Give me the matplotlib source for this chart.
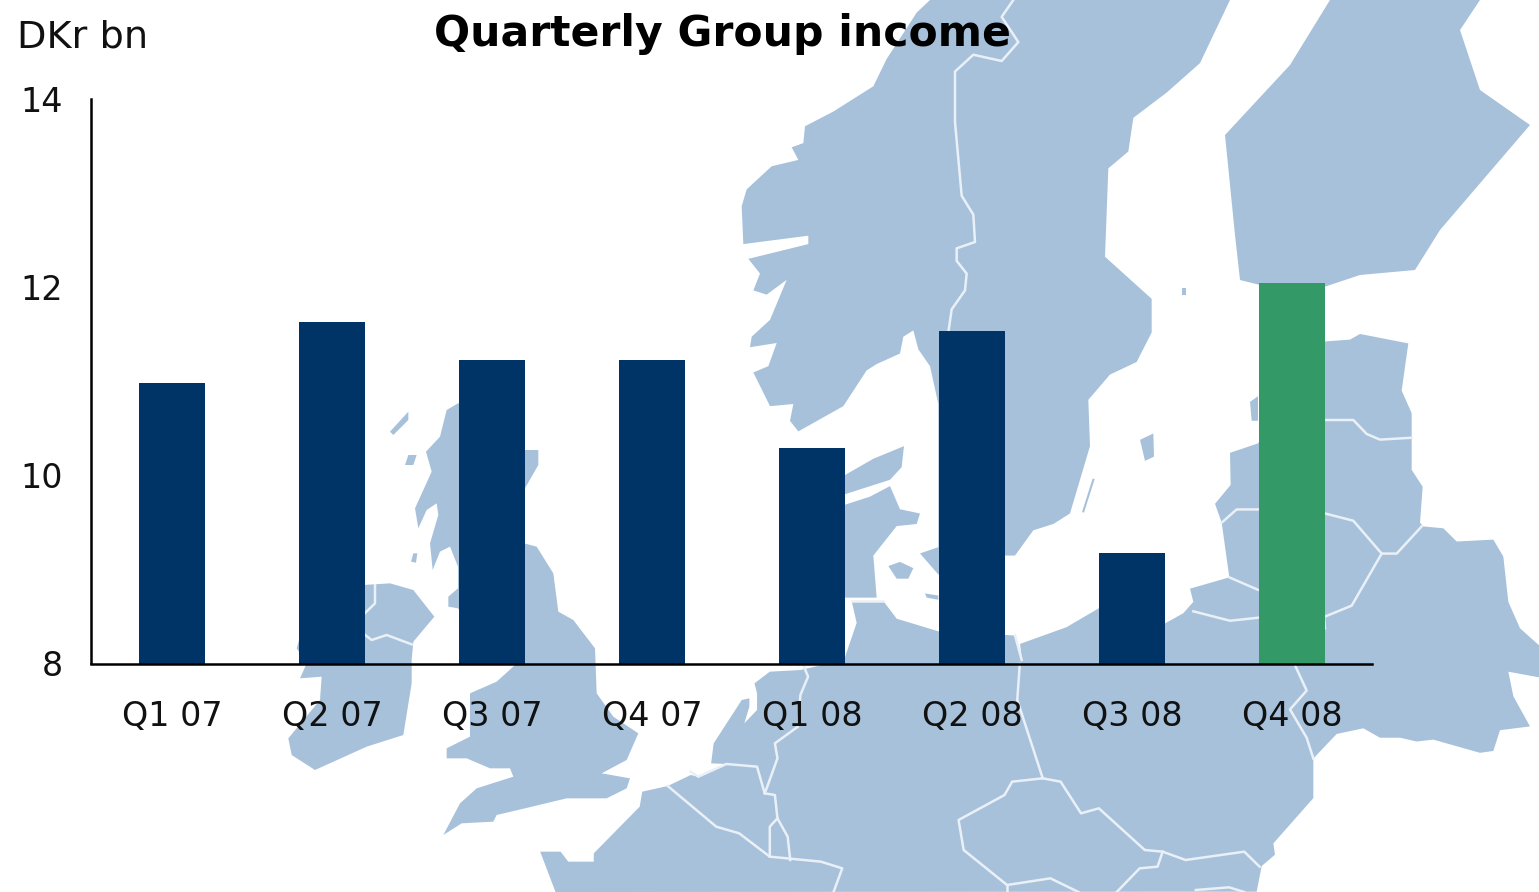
import matplotlib
matplotlib.use("Agg")
import matplotlib.pyplot as plt
from matplotlib.patches import Polygon

quarters = ["Q1 07", "Q2 07", "Q3 07", "Q4 07", "Q1 08", "Q2 08", "Q3 08", "Q4 08"]
income = [10.98, 11.63, 11.23, 11.23, 10.29, 11.53, 9.17, 12.04]
y_ticks = [8, 10, 12, 14]

W, H = 1539, 892
BLUE = "#003366"
GREEN = "#339966"
LAND = "#A7C1DB"
FONT = ["DejaVu Sans"]


def conv(x0, y0, sx, sy):
    return lambda pts: [(x0 + x / sx, y0 + y / sy) for x, y in pts]


z1 = conv(280, 400, 3, 3)
z2 = conv(700, 0, 3, 2.376)
z3 = conv(1150, 300, 3, 2.65)
z4 = conv(530, 660, 1.96, 3)

fig = plt.figure(figsize=(W / 100, H / 100), dpi=100, facecolor="white")

# decorative background map, in pixel space
bg = fig.add_axes([0, 0, 1, 1], zorder=0)
bg.set_xlim(0, W)
bg.set_ylim(H, 0)
bg.axis("off")

scandinavia = z2([(690,0),(650,30),(560,140),(520,205),(400,265),(315,300),(310,340),(275,350),(295,380),(215,395),
                  (140,450),(125,490),(130,580),(325,560),(325,580),(145,615),(180,650),(160,690),(200,700),(260,665),
                  (210,760),(155,800),(150,825),(230,815),(205,870),(160,885),(210,965),(280,960),(270,1000),(295,1025),
                  (430,965),(500,880),(530,865),(600,840),(610,800),(640,785),(655,830),(690,870),(715,960),(715,1300),
                  (660,1315),(715,1365),(915,1320),(945,1320),(1000,1260),(1060,1245),(1110,1220),(1170,1060),(1165,950),
                  (1230,890),(1310,860),(1355,790),(1355,710),(1215,610),(1225,400),(1285,360),(1300,280),(1400,220),
                  (1500,150),(1590,0)])
finland = [(1330,0),(1290,65),(1225,135),(1235,235),(1240,280),(1300,295),(1360,275),(1415,270),(1440,230),(1530,125),
           (1480,90),(1460,30),(1480,0)]
continent = (
    z4([(50,696),(20,575),(60,575),(75,605),(125,605),(125,580),(215,440),(220,395),(270,378),(315,345),(330,350),
        (385,312),(355,310),(360,250),(415,120),(430,115),(430,140),(420,190),(445,150),(445,100),(440,70),(470,35),(530,30)])
    + [(844,660)]
    + z2([(470,1480),(455,1428),(550,1428),(590,1470),(715,1500),(945,1510),(965,1560),(960,1530),(1100,1490),(1197,1445)])
    + z3([(39,860),(100,830),(130,800),(120,765),(238,735),(215,590),(195,540),(242,490),(240,405),(324,380),(522,110),
          (600,105),(630,90),(775,115),(755,240),(785,300),(785,450),(818,495),(810,590),(820,600),(880,605),(920,640),
          (1030,635),(1060,680),(1075,800),(1110,870),(1167,915),(1167,1000),(1075,985),(1090,1050),(1140,1130),(1050,1140),
          (1030,1195),(990,1200),(850,1165),(800,1170),(750,1160),(690,1160),(640,1135),(560,1150),(490,1215),(490,1320),
          (370,1440),(375,1470),(335,1500),(320,1568)])
)
britain = z1([(534,10),(500,30),(480,110),(438,155),(455,215),(405,325),(415,385),(440,330),(470,310),(475,345),(450,430),
              (458,510),(480,455),(510,440),(534,500),(534,565),(505,590),(505,620),(534,625),(600,700),(705,795),(650,845),
              (570,880),(570,1010),(500,1045),(500,1075),(560,1075),(630,1105),(690,1105),(700,1130),(590,1165),(540,1210),
              (490,1305),(545,1270),(640,1265),(650,1245),(735,1225),(860,1195),(980,1195),(1040,1165),(1050,1135),(965,1120),
              (1040,1080),(1075,1000),(1000,950),(950,880),(945,745),(880,660),(835,635),(820,520),(770,440),(732,430),
              (732,270),(775,195),(775,150),(732,150),(700,10)])
ireland = z1([(249,555),(330,550),(400,570),(463,650),(400,725),(395,780),(395,850),(370,1005),(260,1040),(105,1110),
              (35,1065),(25,1015),(120,900),(125,830),(60,835),(80,790),(50,745),(57,720)])
land = [scandinavia, finland, continent, britain, ireland,
        z1([(330,95),(385,35),(385,60),(340,105)]),
        z1([(375,195),(385,165),(410,165),(400,195)]),
        z1([(393,485),(400,460),(412,460),(408,488)]),
        z2([(432,1130),(520,1090),(612,1060),(605,1110),(570,1140),(432,1175)]),
        z2([(432,1200),(510,1180),(570,1155),(600,1210),(660,1220),(650,1245),(590,1250),(520,1320),(530,1420),(432,1420)]),
        z2([(565,1345),(600,1335),(640,1350),(625,1375),(590,1375)]),
        z2([(675,1410),(715,1415),(715,1425),(680,1420)]),
        z2([(1320,1045),(1360,1030),(1362,1085),(1335,1095)]),
        z2([(1445,685),(1458,685),(1458,702),(1445,702)]),
        z3([(300,270),(324,255),(324,320),(305,320)])]
for p in land:
    bg.add_patch(Polygon(p, closed=True, fc=LAND, ec="none"))

borders = [
    z2([(940,0),(905,40),(955,100),(905,145),(820,130),(765,170),(765,290),(785,465),(820,510),(825,575),(770,590),(770,620),
        (800,650),(795,690),(755,735),(745,790)]),
    z2([(455,1428),(550,1428)]),
    z2([(945,1510),(965,1568)]),
    z3([(522,318),(610,318),(650,355),(690,370),(785,365)]),
    z3([(215,590),(260,555),(324,555)]),
    z3([(522,565),(610,585),(695,672),(740,672),(815,600)]),
    z3([(695,672),(605,810),(522,840),(525,870)]),
    z3([(238,735),(324,768)]),
    z3([(130,825),(240,850),(324,842)]),
    z3([(435,968),(470,1035),(420,1085),(470,1160),(490,1215)]),
    z4([(960,12),(955,120),(1005,355),(945,365),(930,405),(840,480),(850,570),(935,675),(1020,655),(1075,696)]),
    z4([(1005,355),(1040,365),(1080,460),(1115,445),(1205,570),(1240,575),(1285,600),(1400,575),(1430,620)]),
    z4([(935,675),(935,696)]),
    z4([(1240,575),(1230,620),(1195,625),(1150,696)]),
    z4([(1305,690),(1370,682),(1400,696)]),
    z4([(270,378),(365,500),(410,520),(470,590),(570,605),(612,625),(595,696)]),
    z4([(315,335),(330,350),(385,312),(445,320),(460,400),(480,405),(485,475),(505,530),(510,600)]),
    z4([(485,475),(470,500),(470,590)]),
    z4([(535,12),(545,50),(530,105),(525,200),(480,250),(485,295),(465,380),(460,400)]),
    z1([(285,555),(285,610),(249,645)]),
    z1([(249,700),(275,720),(320,705),(395,733)]),
]
for b in borders:
    xs, ys = zip(*b)
    bg.plot(xs, ys, color="#EAF0F7", lw=1.8, solid_joinstyle="round")
ol = z2([(1150,1215),(1180,1140)])
bg.plot(*zip(*ol), color=LAND, lw=1.5)

# chart
ax = fig.add_axes([91 / W, 1 - 663.5 / H, (1372 - 91) / W, (663.5 - 99) / H], zorder=1)
ax.patch.set_alpha(0)
colors = [BLUE] * 7 + [GREEN]
ax.bar(range(len(quarters)), income, bottom=0, width=0.41, color=colors)
ax.set_xlim(-0.507, 7.5)
ax.set_ylim(8, 14)
ax.set_yticks(y_ticks)
ax.set_xticks(range(len(quarters)))
ax.set_xticklabels(quarters, fontsize=24, family=FONT, color="#111111")
ax.set_yticklabels(y_ticks, fontsize=24, family=FONT, color="#111111")
ax.tick_params(length=0, axis="both")
ax.tick_params(axis="x", pad=26)
ax.tick_params(axis="y", pad=20)
for s in ("top", "right"):
    ax.spines[s].set_visible(False)
for s in ("left", "bottom"):
    ax.spines[s].set_linewidth(1.8)
    ax.spines[s].set_color("black")

fig.text(722 / W, 1 - 34 / H, "Quarterly Group income", fontsize=30.6, fontweight="bold",
         family=FONT, ha="center", va="center", color="black")
fig.text(17 / W, 1 - 37 / H, "DKr bn", fontsize=27.5, family=FONT, ha="left", va="center", color="#111111")

fig.savefig("out.png", dpi=100)
